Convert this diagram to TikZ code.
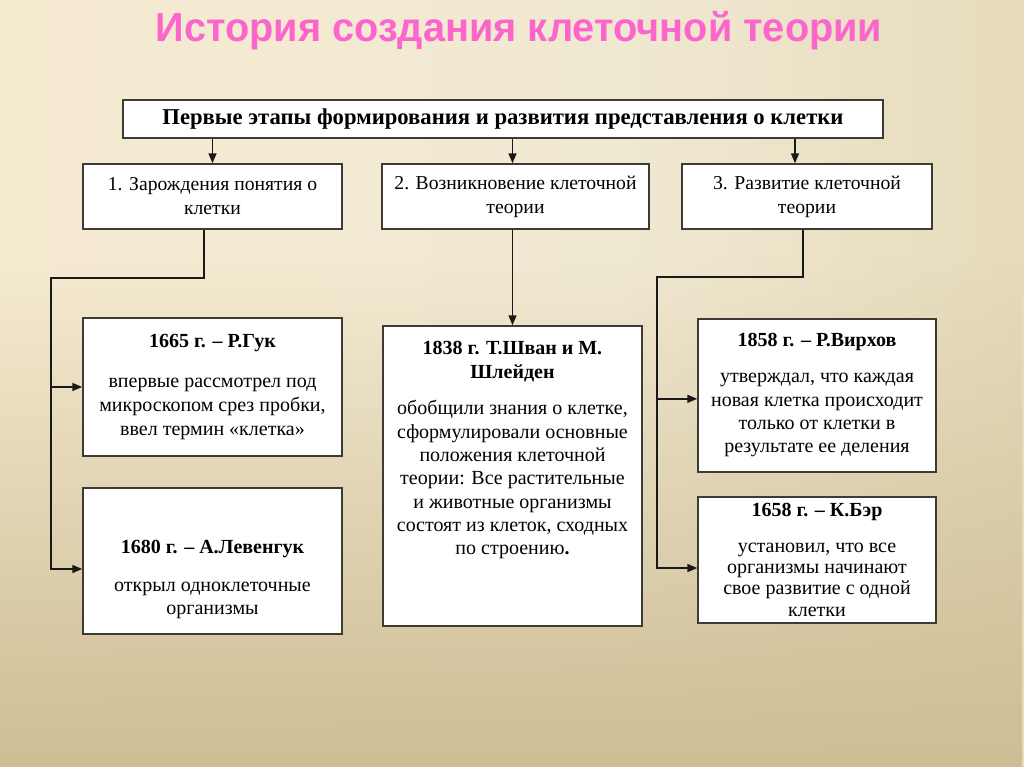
\documentclass[tikz,border=0pt]{standalone}
\usepackage{fontspec}
\setmainfont{Liberation Serif}
\setsansfont{Liberation Sans}
\usepackage{graphicx}
\usetikzlibrary{arrows.meta,calc,fadings}
\definecolor{paperL}{RGB}{250,236,208}
\definecolor{paperM}{RGB}{240,233,210}
\definecolor{paperT}{RGB}{226,214,180}
\definecolor{paperR}{RGB}{204,189,150}
\definecolor{paperB}{RGB}{206,189,148}
\definecolor{titleP}{RGB}{252,102,204}
\definecolor{frameG}{RGB}{62,58,52}
\pgfdeclarehorizontalshading{paper}{100bp}{color(0bp)=(paperL); color(55bp)=(paperM); color(82bp)=(paperT); color(100bp)=(paperR)}

\begin{document}
\begin{tikzpicture}[x=0.75pt, y=-0.75pt, >={Triangle[length=7.5pt,width=6pt]},
  hd/.style={draw=frameG, fill=white, line width=1.1pt, minimum width=570pt, minimum height=28.5pt, font=\bfseries\fontsize{17}{20}\selectfont},
  st/.style={draw=frameG, fill=white, line width=1.1pt, minimum height=48.75pt, align=center, font=\fontsize{14.75}{18}\selectfont},
  card/.style={draw=frameG, fill=white, line width=1.1pt, align=center, inner sep=2pt, minimum width=194.25pt, font=\fontsize{15}{17.5}\selectfont},
  ln/.style={line width=1.2pt, black!90}]
  % background
  \shade[shading=paper] (0,0) rectangle (1024,767);
  \fill[paperB, path fading=north] (0,767) rectangle (1024,260);

  \node[anchor=base, text=titleP, font=\sffamily\bfseries\fontsize{30.4}{34}\selectfont] (title) at (519,42) {\scalebox{0.98}[1]{История создания клеточной теории}};

  \node[hd] (top) at (503,119) {Первые этапы формирования и развития представления о клетки};

  \node[st, minimum width=194.25pt] (s1) at (212.5,196.5) {1. Зарождения понятия о\\ клетки};
  \node[st, minimum width=200.25pt] (s2) at (515.5,196.5) {2. Возникновение клеточной\\ теории};
  \node[st, minimum width=187.5pt] (s3) at (807,196.5) {3. Развитие клеточной\\ теории};

  \node[card, minimum height=103.5pt, font=\fontsize{15}{18}\selectfont] (hooke) at (212.5,387) {\textbf{1665 г. – Р.Гук}\\[12pt] впервые рассмотрел под\\ микроскопом срез пробки,\\ ввел термин «клетка»};
  \node[card, minimum height=109.5pt] (leeu) at (212.5,561) {\mbox{}\\[20pt]\textbf{1680 г. – А.Левенгук}\\[11pt] открыл одноклеточные\\ организмы};
  \node[card, minimum height=225pt] (schw) at (512.5,476) {\textbf{1838 г. Т.Шван и М.}\\ \textbf{Шлейден}\\[10pt] обобщили знания о клетке,\\ сформулировали основные\\ положения клеточной\\ теории: Все растительные\\ и животные организмы\\ состоят из клеток, сходных\\ по строению\textbf{.}\\[24pt]\mbox{}};
  \node[card, minimum width=178.5pt, minimum height=114.75pt] (virch) at (817,395.5) {\textbf{1858 г. – Р.Вирхов}\\[9.5pt] утверждал, что каждая\\ новая клетка происходит\\ только от клетки в\\ результате ее деления};
  \node[card, inner ysep=1pt, minimum width=178.5pt, minimum height=94.5pt, font=\fontsize{15}{16}\selectfont] (baer) at (817,560) {\textbf{1658 г. – К.Бэр}\\[10.5pt] установил, что все\\ организмы начинают\\ свое развитие с одной\\ клетки};

  \coordinate (lb) at (51,278);
  \coordinate (rb) at (657,277);

  \draw[ln, ->] (s1.north |- top.south) -- (s1.north);
  \draw[ln, ->] (schw.north |- top.south) -- (schw.north |- s2.north);
  \draw[ln, ->] ([xshift=-9pt]s3.north |- top.south) -- ([xshift=-9pt]s3.north);

  \draw[ln, ->] ([xshift=-6.4pt]s1.south) |- (lb) |- ([yshift=-6pt]leeu.west);
  \draw[ln, ->] (lb |- hooke.west) -- (hooke.west);
  \draw[ln, ->] (s2.south -| schw.north) -- (schw.north);
  \draw[ln, ->] ([xshift=-3pt]s3.south) |- (rb) |- ([yshift=-6pt]baer.west);
  \draw[ln, ->] ([yshift=-2.5pt]rb |- virch.west) -- ([yshift=-2.5pt]virch.west);
\end{tikzpicture}
\end{document}
